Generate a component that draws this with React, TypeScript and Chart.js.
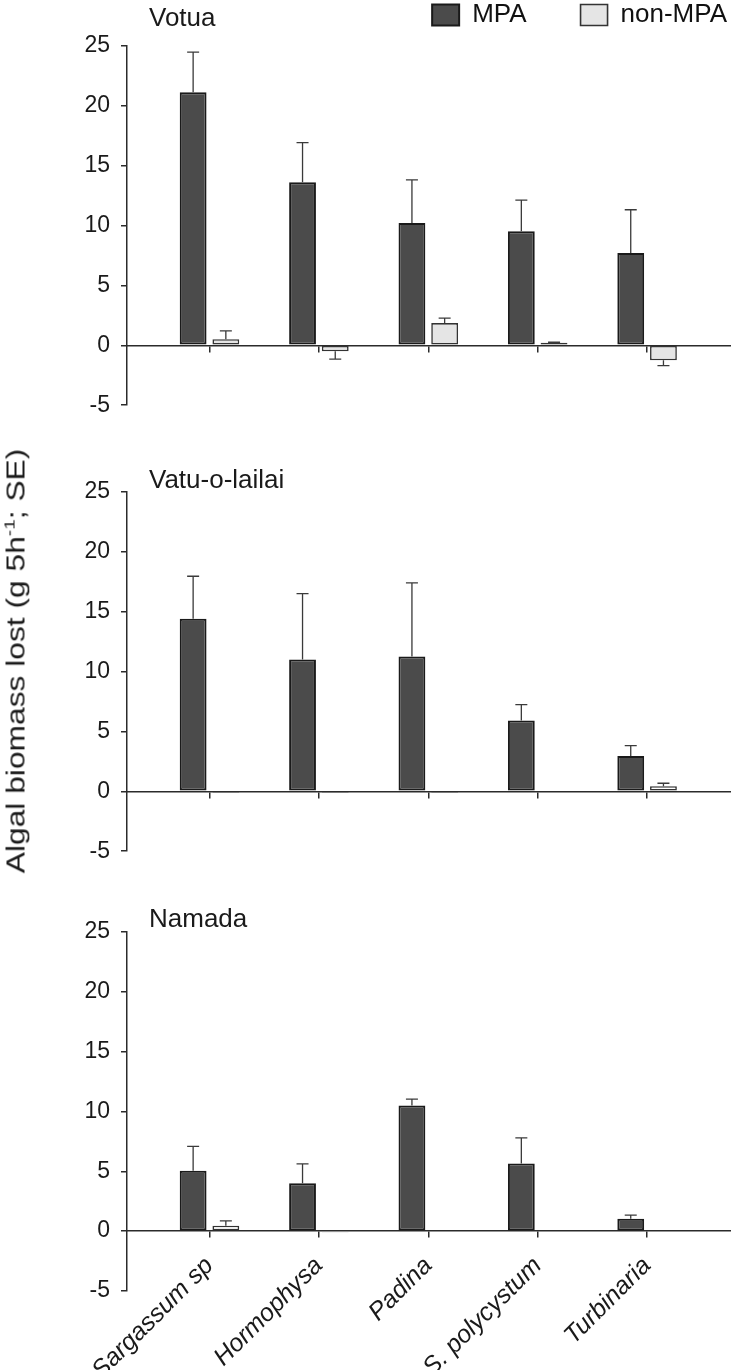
import React, { useEffect, useRef } from 'react';
import { Chart, registerables } from 'chart.js';

Chart.register(...registerables);

const FONT = '"Liberation Sans", Arial, Helvetica, sans-serif';

const categories = ['Sargassum sp', 'Hormophysa', 'Padina', 'S. polycystum', 'Turbinaria'];
const seriesNames = ['MPA', 'non-MPA'];
const siteNames = ['Votua', 'Vatu-o-lailai', 'Namada'];
const yTicks = [-5, 0, 5, 10, 15, 20, 25];
const axisTitle = 'Algal biomass lost (g 5h';

const votuaMPA = [21.1, 13.6, 10.2, 9.5, 7.7];
const votuaMPASE = [3.35, 3.3, 3.6, 2.6, 3.6];
const votuaNon = [0.5, -0.5, 1.85, 0.2, -1.25];
const votuaNonSE = [0.7, 0.65, 0.42, 0.05, 0.45];

const vatuMPA = [14.4, 11.0, 11.25, 5.9, 2.95];
const vatuMPASE = [3.55, 5.5, 6.15, 1.33, 0.86];
const vatuNon = [-0.1, -0.1, -0.1, -0.05, 0.42];
const vatuNonSE = [0, 0, 0, 0, 0.25];

const namadaMPA = [5.05, 4.0, 10.5, 5.65, 1.03];
const namadaMPASE = [2.03, 1.61, 0.53, 2.14, 0.31];
const namadaNon = [0.45, -0.1, 0, 0, 0];
const namadaNonSE = [0.41, 0, 0, 0, 0];

const CANVAS_W = 781;
const X_MIN = -0.754;
const X_MAX = 5.224;

const errorBarPlugin = {
  id: 'errorBars',
  afterDatasetsDraw(chart: any) {
    const ctx = chart.ctx;
    const yScale = chart.scales.y;
    chart.data.datasets.forEach((ds: any, di: number) => {
      const meta = chart.getDatasetMeta(di);
      const errs: number[] = ds.errors;
      if (!errs) return;
      meta.data.forEach((bar: any, i: number) => {
        const v = ds.data[i].y;
        const e = errs[i];
        if (!e) return;
        const start = yScale.getPixelForValue(v);
        const end = yScale.getPixelForValue(v >= 0 ? v + e : v - e);
        ctx.save();
        ctx.strokeStyle = '#3a3a3a';
        ctx.lineWidth = 1.3;
        ctx.beginPath();
        ctx.moveTo(bar.x, start);
        ctx.lineTo(bar.x, end);
        ctx.moveTo(bar.x - 6, end);
        ctx.lineTo(bar.x + 6, end);
        ctx.stroke();
        ctx.restore();
      });
    });
  },
};

type PanelProps = {
  top: number;
  height: number;
  padTop: number;
  padBottom: number;
  mpa: number[];
  mpaSE: number[];
  non: number[];
  nonSE: number[];
  nonColor: string;
  showLegend: boolean;
  showXLabels: boolean;
};

function Panel(p: PanelProps) {
  const ref = useRef<HTMLCanvasElement>(null);
  useEffect(() => {
    if (!ref.current) return;
    const chart = new Chart(ref.current, {
      type: 'bar',
      data: {
        datasets: [
          {
            label: seriesNames[0],
            data: p.mpa.map((v, i) => ({ x: i, y: v })),
            backgroundColor: '#4b4b4b',
            borderColor: '#1a1a1a',
            borderWidth: 2,
            borderSkipped: false,
            categoryPercentage: 0.598,
            barPercentage: 0.82,
            errors: p.mpaSE,
          } as any,
          {
            label: seriesNames[1],
            data: p.non.map((v, i) => ({ x: i, y: v })),
            backgroundColor: p.nonColor,
            borderColor: '#333333',
            borderWidth: 1.6,
            borderSkipped: false,
            categoryPercentage: 0.598,
            barPercentage: 0.82,
            errors: p.nonSE,
          } as any,
        ],
      },
      options: {
        responsive: false,
        animation: false,
        devicePixelRatio: 1,
        layout: { padding: { top: p.padTop, bottom: p.padBottom, left: 0, right: 0 } },
        plugins: {
          legend: {
            display: p.showLegend,
            position: 'top',
            align: 'end',
            labels: {
              font: { size: 26, family: FONT },
              color: '#111',
              boxWidth: 27,
              boxHeight: 21,
              padding: 54,
            },
          },
          subtitle: {
            display: p.showLegend,
            text: '',
            position: 'top',
            weight: 500,
            padding: 0,
            font: { size: 6, lineHeight: 1.25 },
          } as any,
          tooltip: { enabled: false },
        },
        scales: {
          x: {
            type: 'linear',
            position: { y: 0 } as any,
            min: X_MIN,
            max: X_MAX,
            offset: false,
            afterBuildTicks: (scale: any) => {
              scale.ticks = categories.map((_, i) => ({ value: i }));
            },
            afterFit: (scale: any) => {
              scale.height = 10;
            },
            grid: {
              display: true,
              drawOnChartArea: false,
              drawTicks: true,
              tickLength: 6,
              offset: false,
              color: '#2b2b2b',
              lineWidth: 1.5,
            },
            border: { display: true, color: '#2b2b2b', width: 1.5 },
            ticks: {
              display: p.showXLabels,
              autoSkip: false,
              maxRotation: 45,
              minRotation: 45,
              padding: 14,
              color: '#1a1a1a',
              font: { size: 25, style: 'italic', family: FONT },
              callback: (v: any) => categories[v as number] ?? '',
            },
          },
          y: {
            type: 'linear',
            min: yTicks[0],
            max: yTicks[yTicks.length - 1],
            afterBuildTicks: (scale: any) => {
              scale.ticks = yTicks.map((v) => ({ value: v }));
            },
            afterFit: (scale: any) => {
              scale.width = 127;
            },
            grid: {
              display: true,
              drawOnChartArea: false,
              drawTicks: true,
              tickLength: 6,
              color: '#2b2b2b',
              lineWidth: 1.5,
            },
            border: { display: true, color: '#2b2b2b', width: 1.5 },
            ticks: {
              padding: 11,
              color: '#1a1a1a',
              font: { size: 23, family: FONT },
            },
          },
        },
      } as any,
      plugins: [errorBarPlugin],
    });
    return () => chart.destroy();
  }, []);
  return (
    <div style={{ position: 'absolute', left: 0, top: p.top, width: CANVAS_W, height: p.height }}>
      <canvas ref={ref} width={CANVAS_W} height={p.height} />
    </div>
  );
}

const titleStyle: React.CSSProperties = {
  position: 'absolute',
  left: 149,
  fontSize: 26,
  lineHeight: 1,
  color: '#1a1a1a',
  whiteSpace: 'nowrap',
};

export default function App() {
  return (
    <div
      style={{
        position: 'absolute',
        left: 0,
        top: 0,
        width: 731,
        height: 1370,
        overflow: 'hidden',
        background: '#ffffff',
        fontFamily: FONT,
      }}
    >
      <Panel top={-52} height={482} padTop={0} padBottom={0}
        mpa={votuaMPA} mpaSE={votuaMPASE} non={votuaNon} nonSE={votuaNonSE}
        nonColor="#e5e5e5" showLegend={true} showXLabels={false} />
      <Panel top={467} height={409} padTop={0} padBottom={0}
        mpa={vatuMPA} mpaSE={vatuMPASE} non={vatuNon} nonSE={vatuNonSE}
        nonColor="#ffffff" showLegend={false} showXLabels={false} />
      <Panel top={906.5} height={463.5} padTop={0} padBottom={79}
        mpa={namadaMPA} mpaSE={namadaMPASE} non={namadaNon} nonSE={namadaNonSE}
        nonColor="#fafafa" showLegend={false} showXLabels={true} />
      <div style={{ ...titleStyle, top: 4 }}>{siteNames[0]}</div>
      <div style={{ ...titleStyle, top: 466 }}>{siteNames[1]}</div>
      <div style={{ ...titleStyle, top: 905 }}>{siteNames[2]}</div>
      <div
        style={{
          position: 'absolute',
          left: 16.3,
          top: 660.5,
          transform: 'translate(-50%, -50%) rotate(-90deg) scaleX(1.27)',
          fontSize: 25,
          lineHeight: 1,
          color: '#1a1a1a',
          whiteSpace: 'nowrap',
        }}
      >
        {axisTitle}
        <sup style={{ fontSize: 15, verticalAlign: 'baseline', position: 'relative', top: -10 }}>-1</sup>
        {'; SE)'}
      </div>
    </div>
  );
}
